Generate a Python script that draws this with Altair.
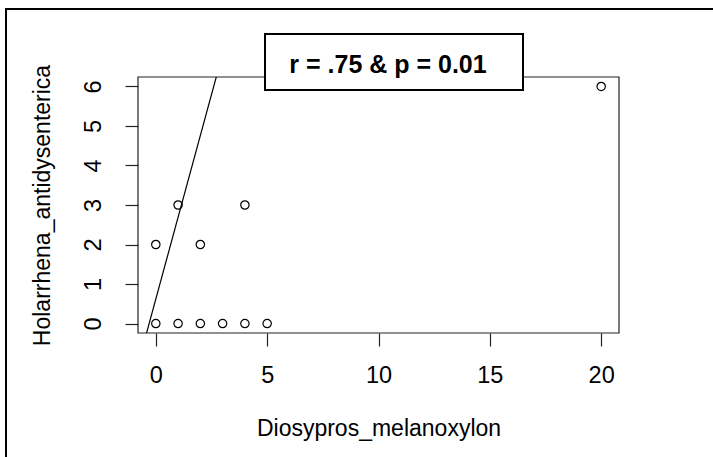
import altair as alt
import pandas as pd

# ---- data ----
x_vals = [0, 1, 2, 3, 4, 5, 0, 2, 1, 4, 20]
y_vals = [0, 0, 0, 0, 0, 0, 2, 2, 3, 3, 6]
x_ticks = [0, 5, 10, 15, 20]
y_ticks = [0, 1, 2, 3, 4, 5, 6]
fit_intercept = 0.62
fit_slope = 2.07
fit_x = [-0.8, 3.5]
annotation = "r = .75 & p = 0.01"
x_title = "Diosypros_melanoxylon"
y_title = "Holarrhena_antidysenterica"

W, H = 481, 256
LEFT, TOP = 138, 77
FONT = "Liberation Sans"

pts = pd.DataFrame({"x": x_vals, "y": y_vals})
fit = pd.DataFrame({"x": fit_x, "y": [fit_intercept + fit_slope * v for v in fit_x]})
one = pd.DataFrame({"a": [0]})
lab = pd.DataFrame({"t": [annotation]})

xs = alt.Scale(domain=[-0.8, 20.8], nice=False, zero=False)
ys = alt.Scale(domain=[-0.24, 6.24], nice=False, zero=False)

xaxis = alt.Axis(
    values=x_ticks, title=x_title, grid=False, domain=False,
    tickSize=13, tickColor="#222", tickWidth=1.2,
    labelFont=FONT, labelFontSize=23.5, labelColor="black",
    labelBaseline="alphabetic", labelPadding=36, labelFlush=False,
    labelOverlap=False, labelBound=False,
    titleFont=FONT, titleFontSize=23, titleFontWeight="normal", titleColor="black",
    titleBaseline="alphabetic", titleAlign="center", titleX=W / 2, titleY=358 - H,
)
yaxis = alt.Axis(
    values=y_ticks, title=y_title, grid=False, domain=False,
    tickSize=13, tickColor="#222", tickWidth=1.2,
    labelFont=FONT, labelFontSize=23.5, labelColor="black",
    labelAngle=270, labelAlign="center", labelBaseline="alphabetic",
    labelPadding=25, labelFlush=False, labelOverlap=False, labelBound=False,
    titleFont=FONT, titleFontSize=23, titleFontWeight="normal", titleColor="black",
    titleAngle=270, titleBaseline="alphabetic", titleAlign="center",
    titleX=-89, titleY=H / 2,
)

outer = alt.Chart(one).mark_rect(fill="white", fillOpacity=0, stroke="black", strokeWidth=2).encode(
    x=alt.value(6 - LEFT), x2=alt.value(800), y=alt.value(9 - TOP), y2=alt.value(600)
)

frame = alt.Chart(one).mark_rect(fill="white", fillOpacity=0, stroke="#222", strokeWidth=1.2).encode(
    x=alt.value(0), x2=alt.value(W), y=alt.value(0), y2=alt.value(H)
)

line = alt.Chart(fit).mark_line(color="black", strokeWidth=1.2, clip=True).encode(
    x=alt.X("x:Q", scale=xs, axis=xaxis),
    y=alt.Y("y:Q", scale=ys, axis=yaxis),
)

points = alt.Chart(pts).mark_point(
    shape="circle", filled=False, stroke="black", strokeWidth=1.2, size=70, opacity=1
).encode(
    x=alt.X("x:Q", scale=xs, axis=xaxis),
    y=alt.Y("y:Q", scale=ys, axis=yaxis),
)

box = alt.Chart(one).mark_rect(fill="white", stroke="black", strokeWidth=2).encode(
    x=alt.value(265 - LEFT), x2=alt.value(523 - LEFT), y=alt.value(34 - TOP), y2=alt.value(90 - TOP)
)

txt = alt.Chart(lab).mark_text(
    font=FONT, fontSize=25, fontWeight="bold", color="black", align="center", baseline="alphabetic"
).encode(text="t:N", x=alt.value(388 - LEFT), y=alt.value(72.5 - TOP))

chart = alt.layer(outer, frame, line, points, box, txt).properties(
    width=W, height=H,
    autosize=alt.AutoSizeParams(type="none"),
    padding={"left": LEFT, "top": TOP, "right": 713 - LEFT - W, "bottom": 457 - TOP - H},
    background="white",
).configure_view(strokeWidth=0)

chart.save("out.html", embed_options={"renderer": "svg", "actions": False})
